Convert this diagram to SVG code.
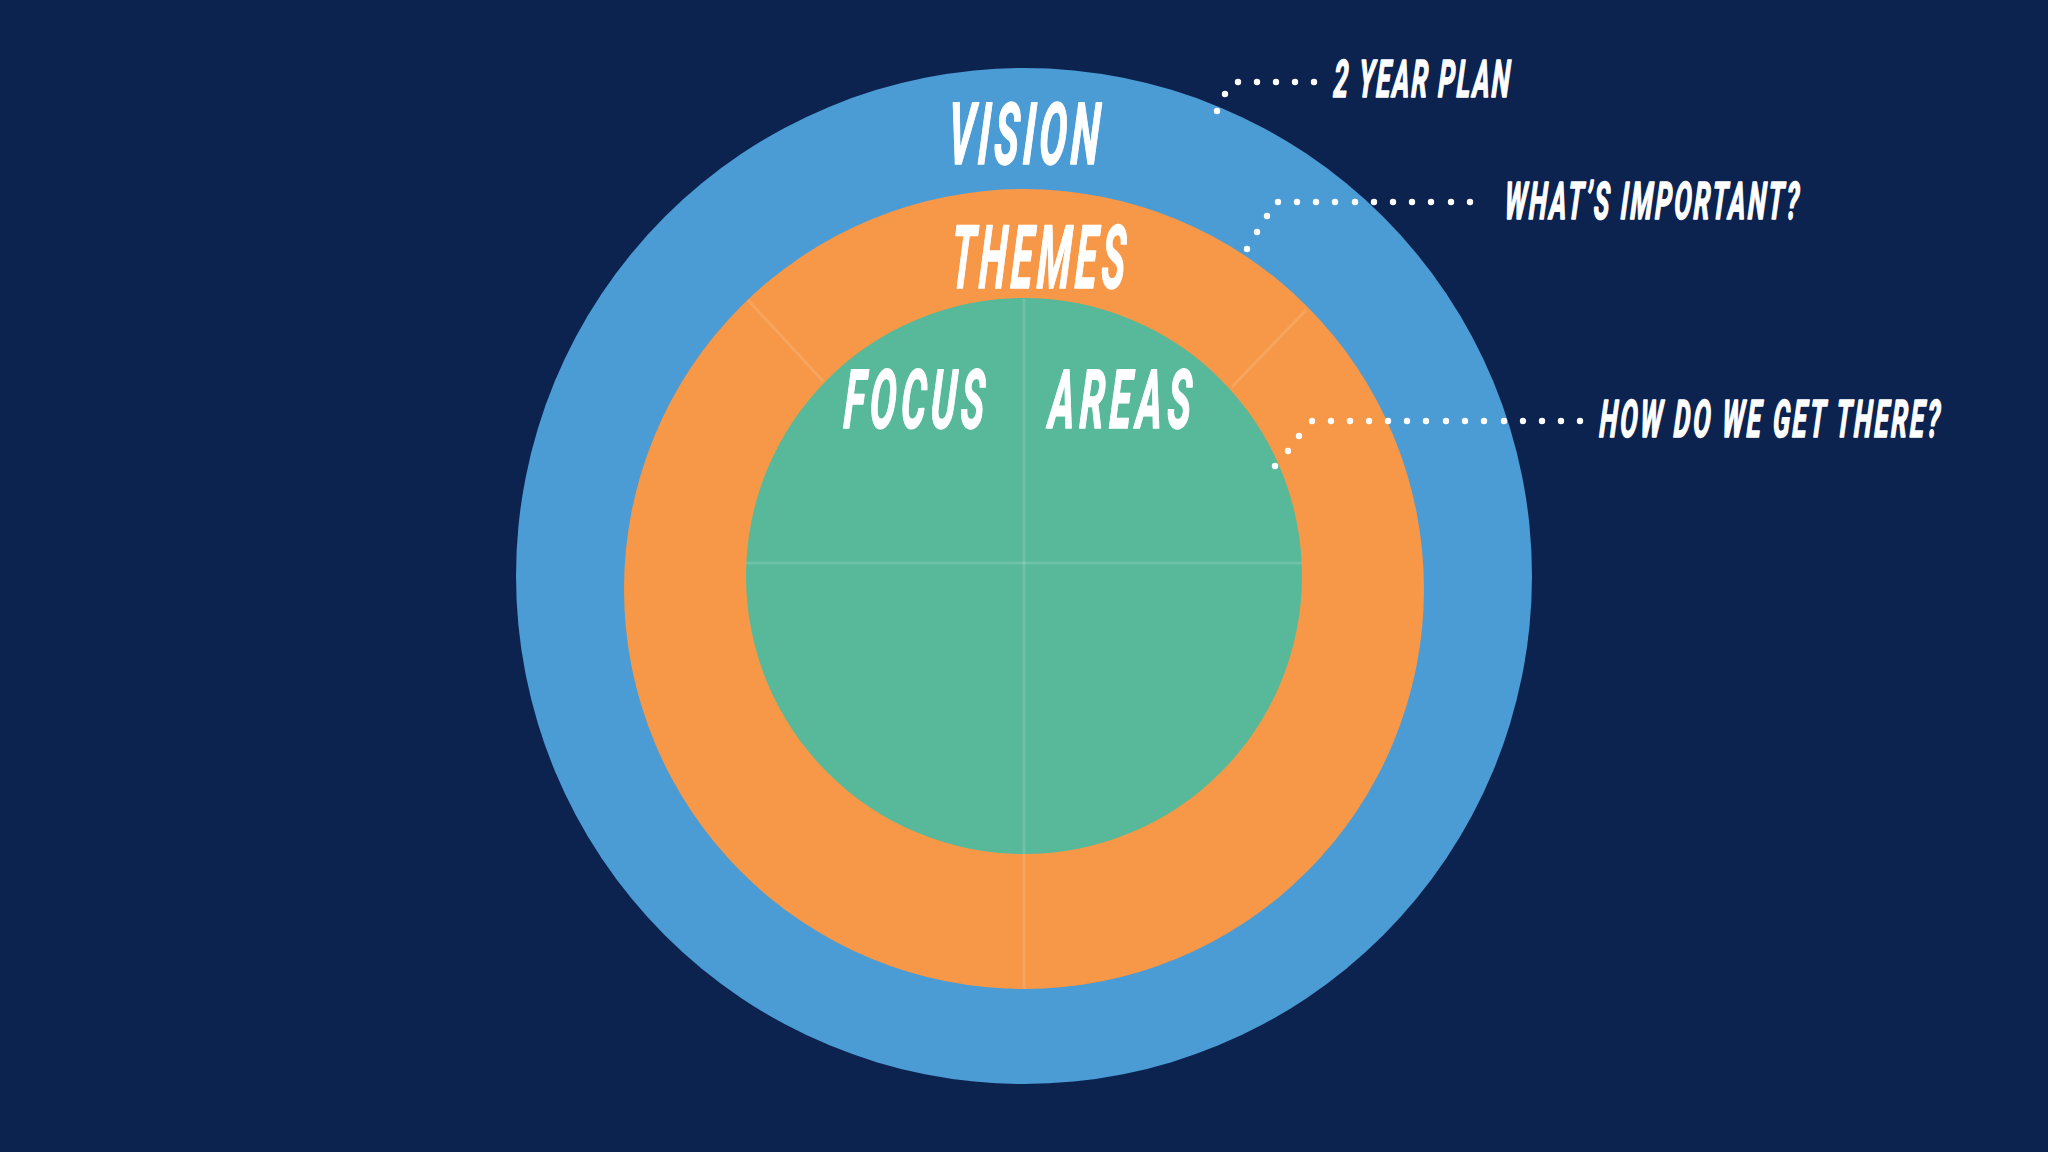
<svg xmlns="http://www.w3.org/2000/svg" width="2048" height="1152" viewBox="0 0 2048 1152">
  <style>
    .t { font-family: Roboto, "Liberation Sans", "DejaVu Sans", sans-serif; font-weight: 700; font-style: italic; fill: #ffffff; stroke: #ffffff; stroke-width: 1.6; stroke-linejoin: round; }
    .div { stroke: #ffffff; stroke-opacity: 0.13; stroke-width: 3; fill: none; }
    .dot { fill: #ffffff; }
  </style>
  <rect width="2048" height="1152" fill="#0c234f"/>
  <g id="vision">
    <circle cx="1024" cy="576" r="508" fill="#4b9bd5"/>
    <text class="t" transform="translate(947 164) skewX(-3) scale(0.48 1)" x="0" y="0" font-size="86" textLength="315" lengthAdjust="spacing">VISION</text>
  </g>
  <g id="themes">
    <circle cx="1024" cy="589" r="400" fill="#f69847"/>
    <line class="div" x1="748" y1="300" x2="823" y2="381"/>
    <line class="div" x1="1306" y1="310" x2="1232" y2="387"/>
    <line class="div" x1="1024" y1="854" x2="1024" y2="989"/>
    <text class="t" transform="translate(950 288) skewX(-3) scale(0.45 1)" x="0" y="0" font-size="88" textLength="387" lengthAdjust="spacing">THEMES</text>
  </g>
  <g id="focus-areas">
    <circle cx="1024" cy="576" r="278" fill="#58b99a"/>
    <line class="div" x1="1024" y1="299" x2="1024" y2="854"/>
    <line class="div" x1="746" y1="563" x2="1302" y2="563"/>
    <text class="t" transform="translate(843 428) skewX(-3) scale(0.48 1)" x="0" y="0" font-size="82" textLength="292" lengthAdjust="spacing">FOCUS</text>
    <text class="t" transform="translate(1048 428) skewX(-3) scale(0.48 1)" x="0" y="0" font-size="82" textLength="296" lengthAdjust="spacing">AREAS</text>
  </g>
  <g id="connectors">
    <g id="leader-plan">
      <circle class="dot" cx="1217" cy="111" r="3.2"/>
      <circle class="dot" cx="1225" cy="94" r="3.2"/>
      <circle class="dot" cx="1238" cy="82" r="3.2"/>
      <circle class="dot" cx="1257" cy="82" r="3.2"/>
      <circle class="dot" cx="1276" cy="82" r="3.2"/>
      <circle class="dot" cx="1295" cy="82" r="3.2"/>
      <circle class="dot" cx="1314" cy="82" r="3.2"/>
    </g>
    <g id="leader-important">
      <circle class="dot" cx="1247" cy="249" r="3.2"/>
      <circle class="dot" cx="1257" cy="232" r="3.2"/>
      <circle class="dot" cx="1267" cy="216" r="3.2"/>
      <circle class="dot" cx="1278" cy="202" r="3.2"/>
      <circle class="dot" cx="1297" cy="202" r="3.2"/>
      <circle class="dot" cx="1316" cy="202" r="3.2"/>
      <circle class="dot" cx="1335" cy="202" r="3.2"/>
      <circle class="dot" cx="1355" cy="202" r="3.2"/>
      <circle class="dot" cx="1374" cy="202" r="3.2"/>
      <circle class="dot" cx="1393" cy="202" r="3.2"/>
      <circle class="dot" cx="1412" cy="202" r="3.2"/>
      <circle class="dot" cx="1431" cy="202" r="3.2"/>
      <circle class="dot" cx="1451" cy="202" r="3.2"/>
      <circle class="dot" cx="1470" cy="202" r="3.2"/>
    </g>
    <g id="leader-there">
      <circle class="dot" cx="1275" cy="466" r="3.2"/>
      <circle class="dot" cx="1288" cy="451" r="3.2"/>
      <circle class="dot" cx="1299" cy="436" r="3.2"/>
      <circle class="dot" cx="1312" cy="421" r="3.2"/>
      <circle class="dot" cx="1331" cy="421" r="3.2"/>
      <circle class="dot" cx="1350" cy="421" r="3.2"/>
      <circle class="dot" cx="1369" cy="421" r="3.2"/>
      <circle class="dot" cx="1388" cy="421" r="3.2"/>
      <circle class="dot" cx="1407" cy="421" r="3.2"/>
      <circle class="dot" cx="1426" cy="421" r="3.2"/>
      <circle class="dot" cx="1446" cy="421" r="3.2"/>
      <circle class="dot" cx="1465" cy="421" r="3.2"/>
      <circle class="dot" cx="1484" cy="421" r="3.2"/>
      <circle class="dot" cx="1504" cy="421" r="3.2"/>
      <circle class="dot" cx="1523" cy="421" r="3.2"/>
      <circle class="dot" cx="1542" cy="421" r="3.2"/>
      <circle class="dot" cx="1561" cy="421" r="3.2"/>
      <circle class="dot" cx="1580" cy="421" r="3.2"/>
    </g>
  </g>
  <g id="label-plan">
    <text class="t" transform="translate(1333 97) skewX(-3) scale(0.5 1)" x="0" y="0" font-size="52" textLength="352" lengthAdjust="spacing">2 YEAR PLAN</text>
  </g>
  <g id="label-important">
    <text class="t" transform="translate(1504 219) skewX(-3) scale(0.5 1)" x="0" y="0" font-size="52" textLength="588" lengthAdjust="spacing">WHAT’S IMPORTANT?</text>
  </g>
  <g id="label-there">
    <text class="t" transform="translate(1599 437) skewX(-3) scale(0.5 1)" x="0" y="0" font-size="52" textLength="680" lengthAdjust="spacing">HOW DO WE GET THERE?</text>
  </g>
</svg>
